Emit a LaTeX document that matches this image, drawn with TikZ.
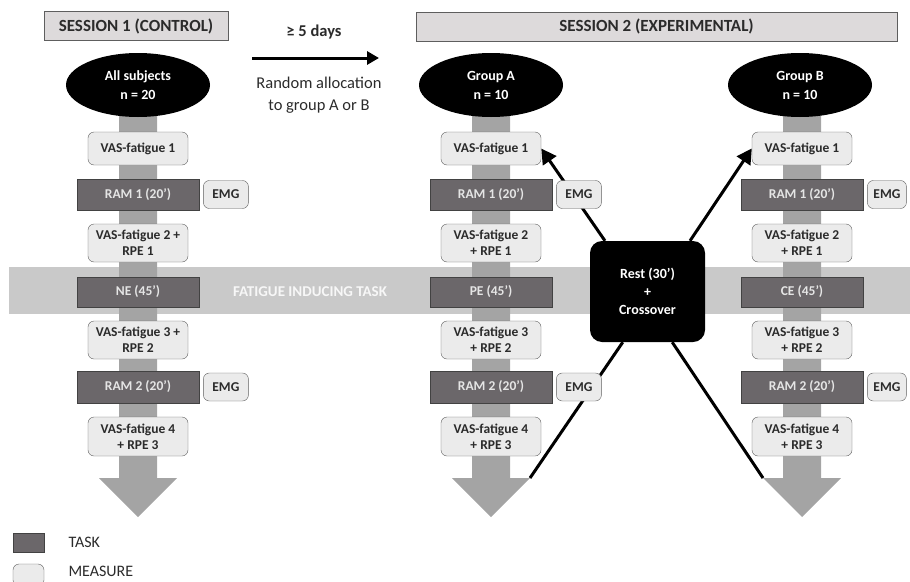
\documentclass[tikz,border=0pt]{standalone}
\usepackage{fontspec}
\setmainfont{Carlito}
\usetikzlibrary{shapes.geometric,arrows.meta,backgrounds,positioning}

\definecolor{taskgray}{HTML}{6B676A}
\definecolor{measgray}{HTML}{EBEBEB}
\definecolor{linegray}{HTML}{5E5E5E}
\definecolor{bandgray}{HTML}{C9C9C9}
\definecolor{flowgray}{HTML}{A4A4A4}
\definecolor{headgray}{HTML}{DDDADB}
\definecolor{textgray}{HTML}{2B2B2B}

\begin{document}
\begin{tikzpicture}[
  x=1pt, y=-1pt,
  every node/.style = {font=\fontsize{13.5}{16}\selectfont\bfseries, text=textgray},
  measure/.style = {draw=linegray, fill=measgray, rounded corners=6pt, align=center,
    inner sep=0pt, minimum width=100pt},
  task/.style = {draw=linegray!70!black, fill=taskgray, text=black!10, inner sep=0pt,
    minimum width=122pt, minimum height=31pt},
  group/.style = {ellipse, fill=black, text=white, align=center, inner sep=0pt,
    minimum width=144pt, minimum height=64pt, font=\fontsize{14}{19}\selectfont\bfseries},
  session/.style = {draw=linegray, fill=headgray, inner sep=0pt, minimum height=29pt,
    font=\fontsize{17}{19}\selectfont\bfseries},
  arrow/.style = {-{Triangle[length=15pt,width=16pt]}, line width=3pt}]
  \useasboundingbox (0,0) rectangle (910,581);

  % hlavicky
  \node[session, minimum width=184pt] (ses1) at (136,26) {SESSION 1 (CONTROL)};
  \node[session, minimum width=481pt] (ses2) at (656.5,26.5) {SESSION 2 (EXPERIMENTAL)};

  % prestavka medzi sedeniami
  \coordinate (d0) at (252,58);
  \coordinate (d1) at (379,58);
  \draw[line width=3pt, -{Triangle[length=12pt,width=13pt]}] (d0) -- (d1);
  \node[font=\fontsize{16.5}{19}\selectfont\bfseries] (days) at (314,32) {≥ 5 days};
  \node[font=\fontsize{16.5}{22}\selectfont, align=center] (alloc) at (319,95)
    {Random allocation\\to group A or B};

  % skupiny
  \node[group] (grpS) at (138,85) {All subjects\\n = 20};
  \node[group] (grpA) at (491,85) {Group A\\n = 10};
  \node[group] (grpB) at (800,85) {Group B\\n = 10};

  \begin{scope}[on background layer]
    \fill[bandgray] (9,267) rectangle (910,314);
  \end{scope}
  \node[text=white!94!gray, font=\fontsize{15}{18}\selectfont\bfseries] (fatigue) at (310,292)
    {FATIGUE INDUCING TASK};

  % stlpce merani a uloh
  \foreach \c/\x/\t/\pa/\pb/\ew in {S/138/NE/{~+}/{}/45, A/491/PE/{}/{+~}/45, B/802/CE/{}/{+~}/39} {
    \node[measure, minimum height=33pt] (vas1\c) at (\x,148.5) {VAS-fatigue 1};
    \node[task] (ram1\c) at (\x,194.5) {RAM 1 (20’)};
    \node[measure, minimum width=\ew pt, minimum height=28pt, right=4pt of ram1\c] (emg1\c) {EMG};
    \node[measure, minimum height=38pt] (vas2\c) at (\x,243) {VAS-fatigue 2\pa\\\pb RPE 1};
    \node[task, minimum height=30pt] (task\c) at (\x,292) {\t~(45’)};
    \node[measure, minimum height=38pt] (vas3\c) at (\x,340) {VAS-fatigue 3\pa\\\pb RPE 2};
    \node[task, minimum height=32pt] (ram2\c) at (\x,387) {RAM 2 (20’)};
    \node[measure, minimum width=\ew pt, minimum height=28pt, right=4pt of ram2\c] (emg2\c) {EMG};
    \node[measure, minimum height=39pt] (vas4\c) at (\x,436.5) {VAS-fatigue 4\\+~RPE 3};
    \coordinate (hl\c) at (\x-39,478);
    \coordinate (hr\c) at (\x+39,478);
    \coordinate (tip\c) at (\x,517);
    \begin{scope}[on background layer]
      \fill[flowgray] (\x-19,85) -- (\x-19,478) -- (hl\c) -- (tip\c) -- (hr\c)
        -- (\x+19,478) -- (\x+19,85) -- cycle;
    \end{scope}
  }

  % odpocinok a prechod
  \node[fill=black, text=white, rounded corners=12pt, minimum width=115pt, minimum height=101pt,
    align=center, font=\fontsize{14}{18}\selectfont\bfseries] (rest) at (647.5,291.5)
    {Rest (30’)\\+\\Crossover};
  \begin{scope}[on background layer]
    \draw[arrow] (rest.130) -- (vas1A.east);
    \draw[arrow] (rest.50) -- (vas1B.west);
    \draw[line width=3pt] (rest.244) -- (hrA);
    \draw[line width=3pt] (rest.296) -- (hlB);
  \end{scope}

  % legenda
  \node[task, minimum width=31pt, minimum height=19pt] (legT) at (28.5,542.5) {};
  \node[measure, minimum width=31pt, minimum height=22pt] (legM) at (28.5,575) {};
  \node[font=\fontsize{16}{19}\selectfont, anchor=west] (legTtxt) at (65,542.5) {TASK};
  \node[font=\fontsize{16}{19}\selectfont, anchor=west] (legMtxt) at (65,571.5) {MEASURE};
\end{tikzpicture}
\end{document}
